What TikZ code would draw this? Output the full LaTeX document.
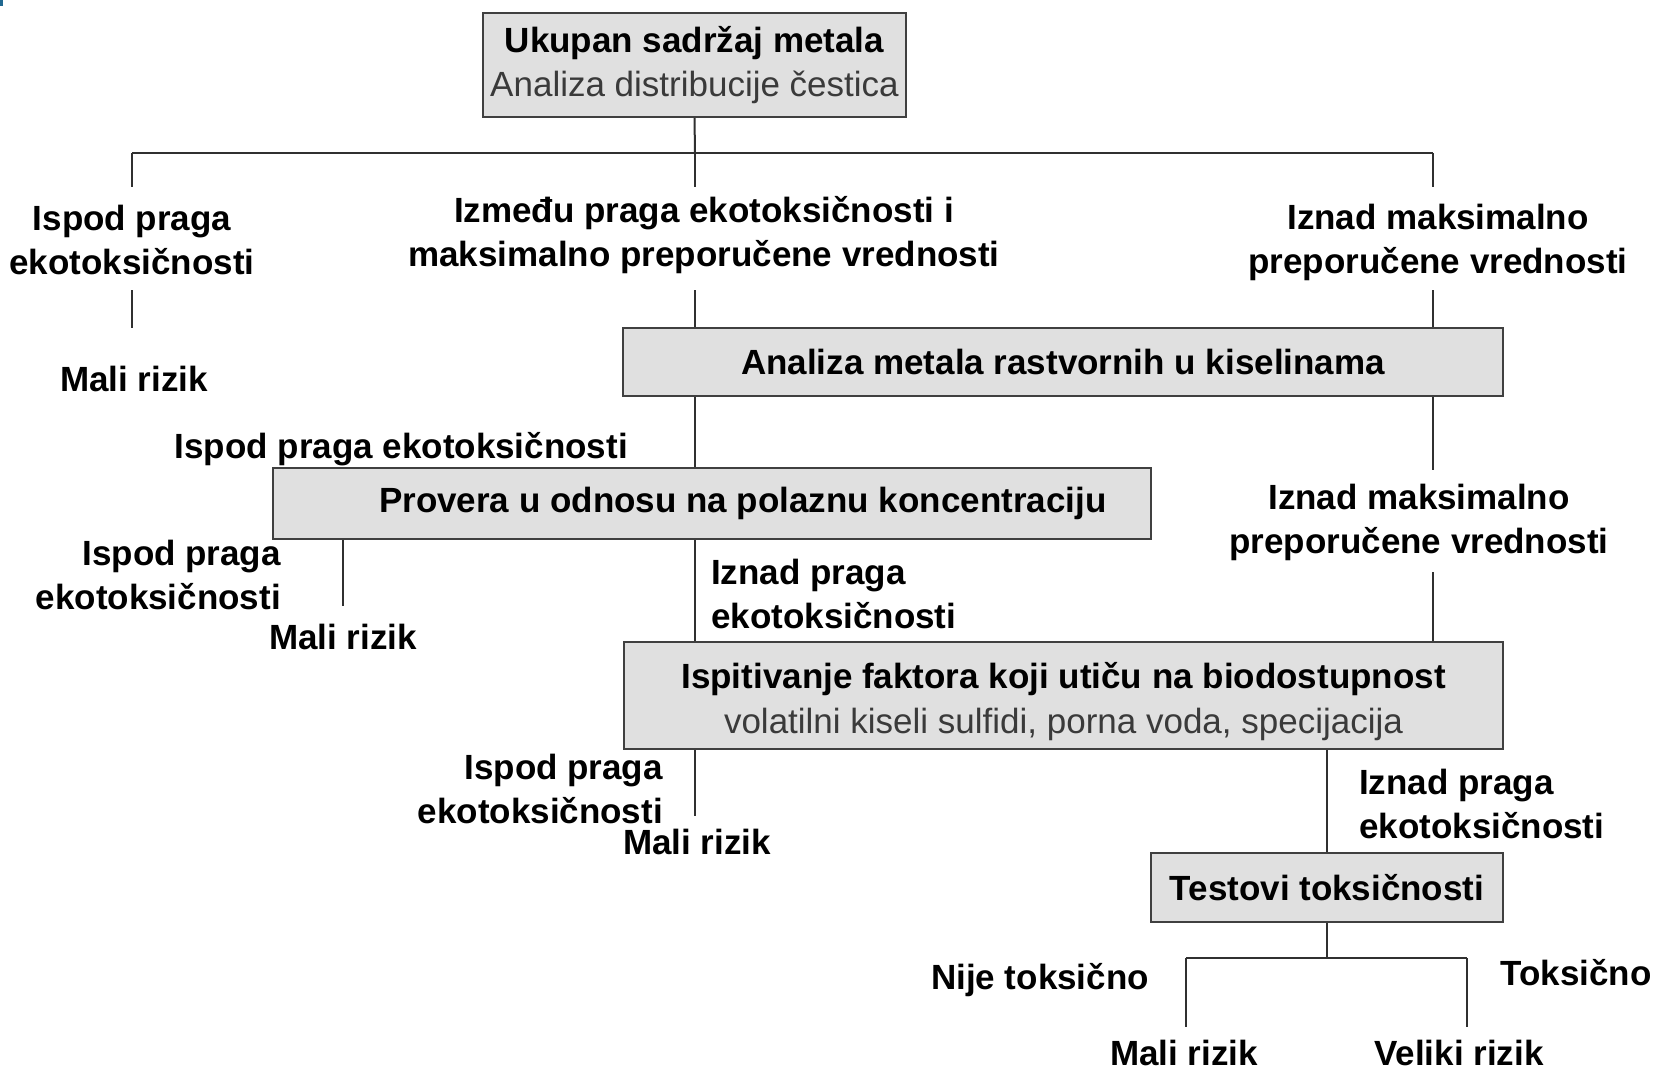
\documentclass[tikz,border=0pt]{standalone}
\usepackage{fontspec}
\setmainfont{Liberation Sans}
\definecolor{boxfill}{HTML}{E0E0E0}
\definecolor{boxline}{HTML}{404040}
\definecolor{lineclr}{HTML}{303030}
\definecolor{subtxt}{HTML}{3A3A3A}
\definecolor{markblue}{HTML}{206890}
\begin{document}
\begin{tikzpicture}[x=1pt,y=-1pt,
  box/.style={draw=boxline, line width=2.4pt, fill=boxfill, inner sep=0pt, align=center,
              font=\fontsize{35}{44}\selectfont\bfseries},
  lbl/.style={inner sep=0pt, align=center, font=\fontsize{35}{44}\selectfont\bfseries},
  conn/.style={draw=lineclr, line width=2pt}]
\useasboundingbox[fill=white] (0,0) rectangle (1656,1070);
\fill[markblue] (0,0) rectangle (2.5,6);

% boxes
\node[box, minimum width=423pt, minimum height=104pt] (b1) at (694.5,65)
  {Ukupan sadržaj metala\\{\mdseries\color{subtxt}Analiza distribucije čestica}};
\node[box, minimum width=880pt, minimum height=68pt] (b2) at (1063,362)
  {Analiza metala rastvornih u kiselinama};
\node[box, minimum width=878pt, minimum height=71pt] (b3) at (711.75,503.5)
  {\hspace*{62pt}Provera u odnosu na polaznu koncentraciju};
\node[box, minimum width=879pt, minimum height=107pt,
      font=\fontsize{35}{45.5}\selectfont\bfseries] (b4) at (1063.5,695.5)
  {\rule{0pt}{38pt}Ispitivanje faktora koji utiču na biodostupnost\\{\mdseries\color{subtxt}volatilni kiseli sulfidi, porna voda, specijacija}};
\node[box, minimum width=352pt, minimum height=69pt] (b5) at (1327,887.5)
  {Testovi toksičnosti};

% labels
\node[lbl] (L1) at (132,240) {Ispod praga\\ekotoksičnosti};
\node[lbl] (R1a) at (134,379) {Mali rizik};
\node[lbl] (M1) at (704,235) {Između praga ekotoksičnosti i\\maksimalno preporučene vrednosti};
\node[lbl] (R1) at (1438,242) {Iznad maksimalno\\preporučene vrednosti};
\node[lbl, anchor=east] (L2) at (628,449) {Ispod praga ekotoksičnosti};
\node[lbl] (R2) at (1419,522) {Iznad maksimalno\\preporučene vrednosti};
\node[lbl, anchor=east, align=right] (L3) at (281,575) {Ispod praga\\ekotoksičnosti};
\node[lbl] (R3a) at (343,637) {Mali rizik};
\node[lbl, anchor=west, align=left] (M3) at (711,594) {Iznad praga\\ekotoksičnosti};
\node[lbl, anchor=east, align=right] (L4) at (663,789) {Ispod praga\\ekotoksičnosti};
\node[lbl] (R4a) at (697,842) {Mali rizik};
\node[lbl, anchor=west, align=left] (M4) at (1359,804) {Iznad praga\\ekotoksičnosti};
\node[lbl] (N5) at (1040,980) {Nije toksično};
\node[lbl] (T5) at (1576,973) {Toksično};
\node[lbl] (R5a) at (1184,1053) {Mali rizik};
\node[lbl] (R5b) at (1459,1053) {Veliki rizik};

% junction / free-end coordinates
\coordinate (jTop) at (695,153);
\coordinate (jL) at (132,153);
\coordinate (jR) at (1433,153);
\coordinate (eL1) at (132,187);
\coordinate (eM1) at (695,187);
\coordinate (eR1) at (1433,187);
\coordinate (sL1) at (132,290);
\coordinate (fL1) at (132,328);
\coordinate (sM1) at (695,290);
\coordinate (sR1) at (1433,290);
\coordinate (eR2) at (1433,470);
\coordinate (sR2) at (1433,572);
\coordinate (e3L) at (343,606);
\coordinate (e4L) at (695,816);
\coordinate (j5) at (1327,958);
\coordinate (j5L) at (1186,958);
\coordinate (j5R) at (1467,958);
\coordinate (e5L) at (1186,1027);
\coordinate (e5R) at (1467,1027);

% connectors
\draw[conn] (b1.south) -- (jTop);
\draw[conn] (jL) -- (jR);
\draw[conn] (jL) -- (eL1);
\draw[conn] (jTop) -- (eM1);
\draw[conn] (jR) -- (eR1);
\draw[conn] (sL1) -- (fL1);
\draw[conn] (sM1) -- (sM1 |- b2.north);
\draw[conn] (sR1) -- (sR1 |- b2.north);
\draw[conn] (sM1 |- b2.south) -- (sM1 |- b3.north);
\draw[conn] (sR1 |- b2.south) -- (eR2);
\draw[conn] (sR2) -- (sR2 |- b4.north);
\draw[conn] (e3L |- b3.south) -- (e3L);
\draw[conn] (sM1 |- b3.south) -- (sM1 |- b4.north);
\draw[conn] (sM1 |- b4.south) -- (e4L);
\draw[conn] (j5 |- b4.south) -- (b5.north -| j5);
\draw[conn] (b5.south -| j5) -- (j5);
\draw[conn] (j5L) -- (j5R);
\draw[conn] (j5L) -- (e5L);
\draw[conn] (j5R) -- (e5R);
\end{tikzpicture}
\end{document}
